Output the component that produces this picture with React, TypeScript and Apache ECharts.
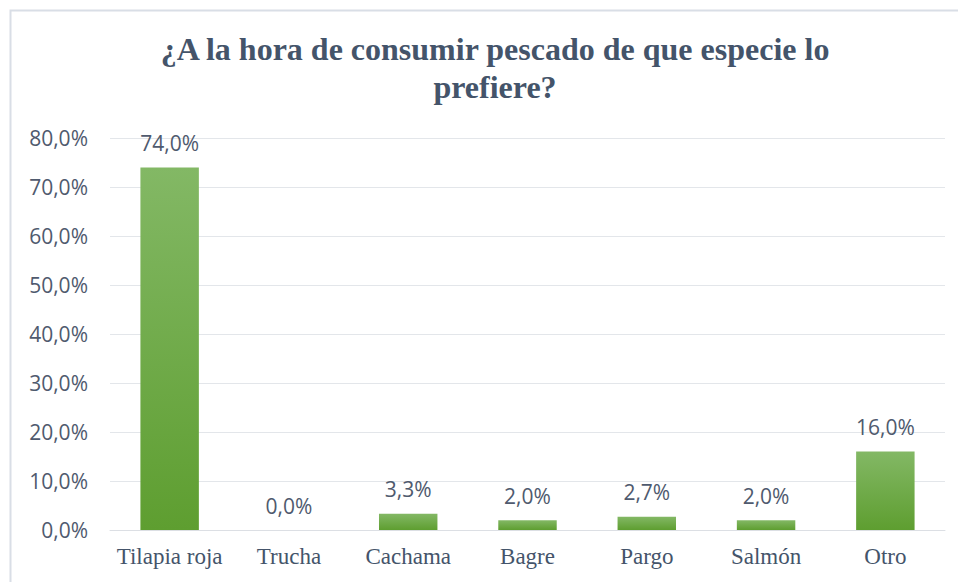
import React, { useEffect, useRef } from "react";
import * as echarts from "echarts";

const categories = ["Tilapia roja", "Trucha", "Cachama", "Bagre", "Pargo", "Salmón", "Otro"];
const values = [74.0, 0.0, 3.3, 2.0, 2.7, 2.0, 16.0];
const titleText = "¿A la hora de consumir pescado de que especie lo\nprefiere?";

const fmt = (v: number) => v.toFixed(1).replace(".", ",") + "%";
const SERIF = "'Liberation Serif', 'Times New Roman', serif";
const SANS = "'Open Sans', sans-serif";

export default function App() {
  const ref = useRef<HTMLDivElement>(null);
  useEffect(() => {
    if (!ref.current) return;
    const chart = echarts.init(ref.current, null, { renderer: "svg" });
    chart.setOption({
      animation: false,
      backgroundColor: "#ffffff",
      title: {
        text: titleText,
        left: 490,
        textAlign: "center",
        top: 25,
        textStyle: {
          fontFamily: SERIF,
          fontWeight: "bold",
          fontSize: 32,
          lineHeight: 38,
          color: "#44546A",
        },
      },
      graphic: [
        {
          type: "rect",
          shape: { x: 10.5, y: 10.5, width: 960, height: 600 },
          style: { fill: "none", stroke: "#D9DEE6", lineWidth: 2 },
          silent: true,
        },
      ],
      grid: { left: 110, right: 13, top: 138, bottom: 52 },
      xAxis: {
        type: "category",
        data: categories,
        axisLine: { show: true, lineStyle: { color: "#DCDFE4" } },
        axisTick: { show: false },
        axisLabel: {
          interval: 0,
          fontFamily: SERIF,
          fontSize: 23,
          color: "#44546A",
          margin: 15,
        },
      },
      yAxis: {
        type: "value",
        min: 0,
        max: 80,
        interval: 10,
        axisLine: { show: false },
        axisTick: { show: false },
        splitLine: { lineStyle: { color: "#E3E6EA", width: 1 } },
        axisLabel: {
          formatter: (v: number) => fmt(v),
          fontFamily: SANS,
          fontSize: 21,
          color: "#4F5A6E",
          margin: 22,
        },
      },
      series: [
        {
          type: "bar",
          data: values,
          barWidth: "49%",
          itemStyle: {
            color: new echarts.graphic.LinearGradient(0, 0, 0, 1, [
              { offset: 0, color: "#83B865" },
              { offset: 1, color: "#5E9E30" },
            ]),
          },
          label: {
            show: true,
            position: "top",
            distance: 14,
            formatter: (p: any) => fmt(p.value),
            fontFamily: SANS,
            fontSize: 21,
            color: "#4F5A6E",
          },
        },
      ],
    });
    return () => chart.dispose();
  }, []);
  return (
    <div
      ref={ref}
      style={{ position: "fixed", left: 0, top: 0, width: 958, height: 582 }}
    />
  );
}
